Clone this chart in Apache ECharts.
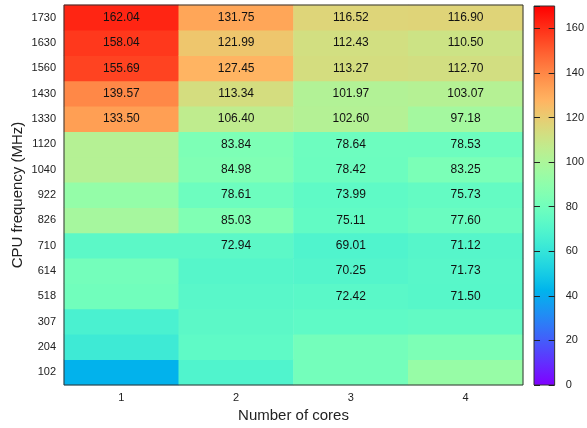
<!DOCTYPE html>
<html><head><meta charset="utf-8">
<script src="https://cdn.jsdelivr.net/npm/echarts@6/dist/echarts.min.js"></script>
<style>html,body{margin:0;padding:0;background:#fff}#c{width:587px;height:428px}</style>
</head><body><div id="c"></div>
<script>
// Categories
const freqs = ['102','204','307','518','614','710','826','922','1040','1120','1330','1430','1560','1630','1730'];
const cores = ['1','2','3','4'];
// Values per core count, from 102 MHz up to 1730 MHz
const core1 = [42, 63, 67, 80, 81, 73, 98, 92, 103, 103, 133.50, 139.57, 155.69, 158.04, 162.04];
const core2 = [69, 74, 73, 72, 71, 72.94, 85.03, 78.61, 84.98, 83.84, 106.40, 113.34, 127.45, 121.99, 131.75];
const core3 = [81, 81, 74, 72.42, 70.25, 69.01, 75.11, 73.99, 78.42, 78.64, 102.60, 101.97, 113.27, 112.43, 116.52];
const core4 = [93, 84, 75, 71.50, 71.73, 71.12, 77.60, 75.73, 83.25, 78.53, 97.18, 103.07, 112.70, 110.50, 116.90];
// Which cells carry a printed value (1 = printed)
const printed1 = [0,0,0,0,0,0,0,0,0,0,1,1,1,1,1];
const printed2 = [0,0,0,0,0,1,1,1,1,1,1,1,1,1,1];
const printed3 = [0,0,0,1,1,1,1,1,1,1,1,1,1,1,1];
const printed4 = [0,0,0,1,1,1,1,1,1,1,1,1,1,1,1];
// Colour scale
const scaleMin = 0, scaleMax = 170, scaleStep = 20;

const allValues = [core1, core2, core3, core4];
const allPrinted = [printed1, printed2, printed3, printed4];

// matplotlib-like "rainbow" colormap
function rainbow(t){
  const r = Math.min(1, Math.abs(2*t - 0.5));
  const g = Math.sin(Math.PI*t);
  const b = Math.cos(Math.PI*t/2);
  const h = v => Math.round(Math.max(0,Math.min(1,v))*255);
  return 'rgb(' + h(r) + ',' + h(g) + ',' + h(b) + ')';
}
const nStops = 32;
const colors = [];
const gradStops = [];
for (let i = 0; i <= nStops; i++) {
  const t = i / nStops;
  colors.push(rainbow(t));
  gradStops.push({offset: t, color: rainbow(t)});
}

const data = [];
allValues.forEach((col, x) => {
  col.forEach((v, y) => {
    data.push({value: [x, y, v], label: {show: !!allPrinted[x][y]}});
  });
});

const FONT = 'Liberation Sans';
const chart = echarts.init(document.getElementById('c'), null, {renderer: 'canvas'});
chart.setOption({
  animation: false,
  textStyle: {fontFamily: FONT},
  grid: [
    {left: 64, top: 5, right: 64, bottom: 43, show: true, z: 10, borderColor: '#333', borderWidth: 1, backgroundColor: 'transparent'},
    {left: 534, top: 6, width: 22, height: 379, show: true, z: 10, borderColor: '#333', borderWidth: 1, backgroundColor: 'transparent'}
  ],
  xAxis: [
    {type: 'category', gridIndex: 0, data: cores,
     name: 'Number of cores', nameLocation: 'middle', nameGap: 21,
     nameTextStyle: {fontFamily: FONT, fontSize: 15, color: '#222'},
     axisLine: {show: false}, axisTick: {show: false}, splitLine: {show: false},
     axisLabel: {fontFamily: FONT, fontSize: 11, color: '#222', margin: 7}},
    {type: 'category', gridIndex: 1, data: [''], show: false}
  ],
  yAxis: [
    {type: 'category', gridIndex: 0, data: freqs,
     name: 'CPU frequency (MHz)', nameLocation: 'middle', nameGap: 39, nameMoveOverlap: false,
     nameTextStyle: {fontFamily: FONT, fontSize: 15, color: '#222'},
     axisLine: {show: false}, axisTick: {show: false}, splitLine: {show: false},
     axisLabel: {fontFamily: FONT, fontSize: 11, color: '#222', margin: 8}},
    {type: 'value', gridIndex: 1, min: scaleMin, max: scaleMax, interval: scaleStep, position: 'right', z: 12,
     axisLine: {show: false}, splitLine: {show: false},
     axisTick: {show: true, inside: true, length: 6, lineStyle: {color: '#222'}},
     axisLabel: {fontFamily: FONT, fontSize: 11, color: '#222', margin: 11, showMaxLabel: false,
       formatter: v => (v % scaleStep === 0 ? String(v) : '')}},
    {type: 'value', gridIndex: 1, min: scaleMin, max: scaleMax, interval: scaleStep, position: 'left', z: 12,
     axisLine: {show: false}, splitLine: {show: false},
     axisTick: {show: true, inside: true, length: 6, lineStyle: {color: '#222'}},
     axisLabel: {show: false}}
  ],
  visualMap: {type: 'continuous', min: scaleMin, max: scaleMax, seriesIndex: 0, show: false,
    inRange: {color: colors}},
  series: [
    {type: 'heatmap', xAxisIndex: 0, yAxisIndex: 0, data: data,
     label: {fontFamily: FONT, fontSize: 12, color: '#111',
       formatter: p => p.value[2].toFixed(2)},
     itemStyle: {borderWidth: 0},
     emphasis: {disabled: true}},
    {type: 'bar', xAxisIndex: 1, yAxisIndex: 1, data: [scaleMax], barWidth: '100%', silent: true,
     itemStyle: {color: {type: 'linear', x: 0, y: 1, x2: 0, y2: 0, colorStops: gradStops}}}
  ]
});
</script></body></html>
